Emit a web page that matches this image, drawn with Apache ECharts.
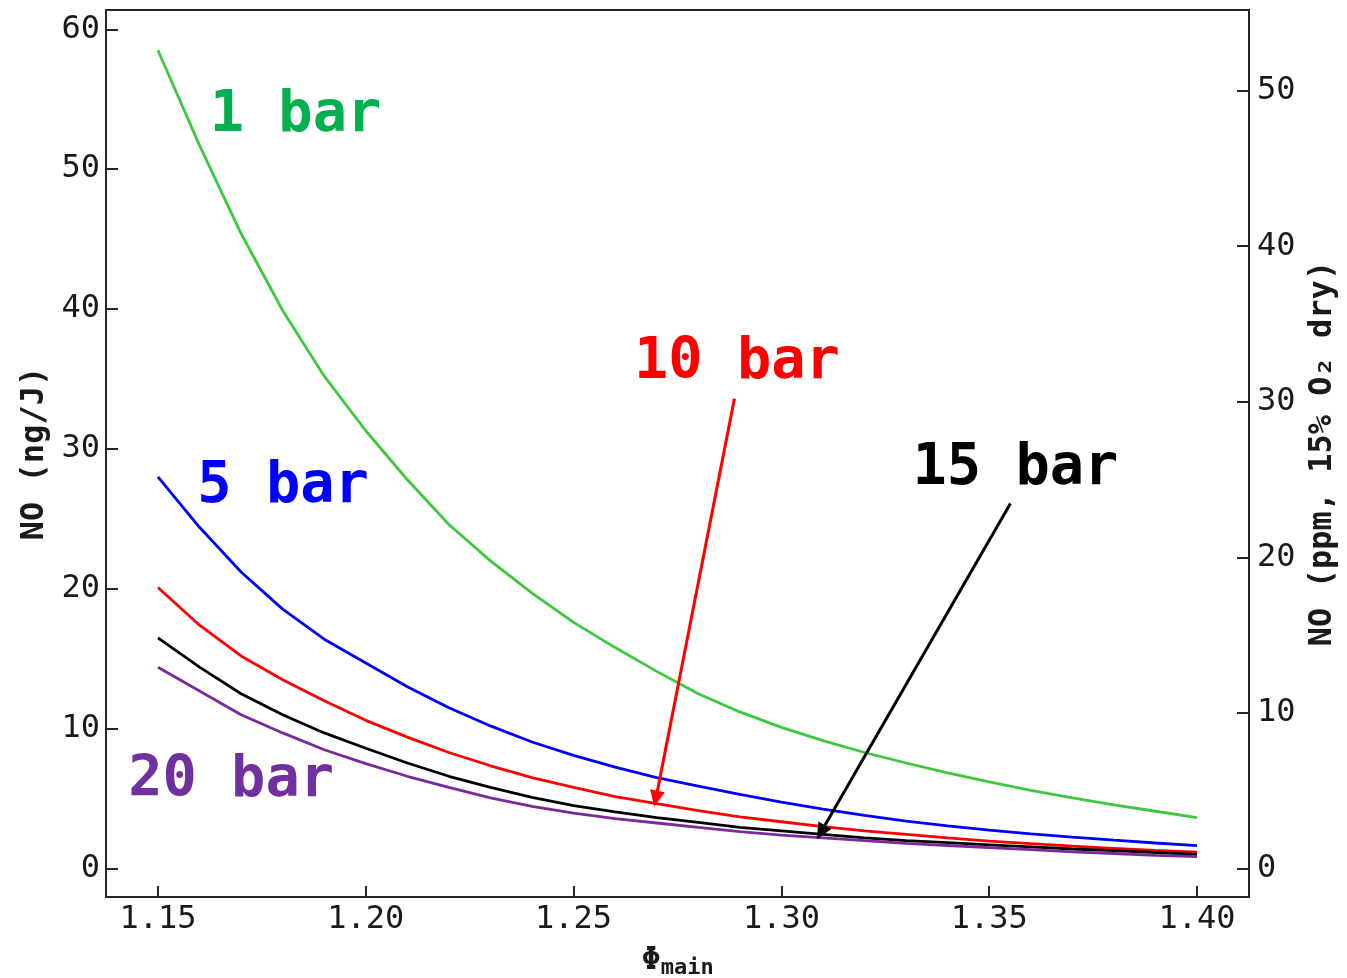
<!DOCTYPE html>
<html>
<head>
<meta charset="utf-8">
<title>NO vs main equivalence ratio</title>
<script src="https://cdn.jsdelivr.net/npm/echarts@6/dist/echarts.min.js"></script>
<style>
  html, body { margin: 0; padding: 0; background: #fff; }
  #chart { width: 1347px; height: 978px; }
</style>
</head>
<body>
<div id="chart"></div>
<script>
// Main-zone equivalence ratio
const phiMain = [1.15, 1.16, 1.17, 1.18, 1.19, 1.20, 1.21, 1.22, 1.23, 1.24, 1.25, 1.26, 1.27,
                 1.28, 1.29, 1.30, 1.31, 1.32, 1.33, 1.34, 1.35, 1.36, 1.37, 1.38, 1.39, 1.40];

// NO emission index (ng/J) at each pressure
const no1bar  = [58.5, 51.7, 45.4, 39.9, 35.2, 31.3, 27.8, 24.6, 22.0, 19.7, 17.6, 15.8, 14.1,
                 12.5, 11.2, 10.1, 9.15, 8.3, 7.55, 6.85, 6.2, 5.6, 5.05, 4.55, 4.1, 3.65];
const no5bar  = [28.0, 24.4, 21.2, 18.55, 16.4, 14.7, 13.0, 11.5, 10.2, 9.05, 8.1, 7.25, 6.5,
                 5.9, 5.3, 4.75, 4.25, 3.8, 3.4, 3.05, 2.75, 2.48, 2.25, 2.03, 1.83, 1.65];
const no10bar = [20.1, 17.4, 15.2, 13.5, 12.0, 10.6, 9.4, 8.3, 7.35, 6.5, 5.8, 5.15, 4.65,
                 4.15, 3.7, 3.35, 3.0, 2.7, 2.45, 2.2, 1.97, 1.78, 1.6, 1.45, 1.3, 1.17];
const no15bar = [16.5, 14.4, 12.5, 11.0, 9.7, 8.6, 7.55, 6.6, 5.8, 5.1, 4.5, 4.05, 3.65,
                 3.3, 2.95, 2.7, 2.45, 2.2, 2.0, 1.85, 1.7, 1.55, 1.4, 1.28, 1.15, 1.02];
const no20bar = [14.4, 12.7, 11.0, 9.7, 8.5, 7.5, 6.6, 5.8, 5.05, 4.45, 3.97, 3.57, 3.26,
                 2.95, 2.65, 2.4, 2.2, 2.0, 1.8, 1.65, 1.5, 1.35, 1.2, 1.08, 0.95, 0.85];

// Tick labels
const xTicks = [1.15, 1.20, 1.25, 1.30, 1.35, 1.40];
const yLeftTicks = [0, 10, 20, 30, 40, 50, 60];
const yRightTicks = [0, 10, 20, 30, 40, 50];

// Conversion ng/J -> ppm @ 15% O2 dry
const NG_TO_PPM = 0.899;

// Series labels and their anchor points (phi, ng/J)
const seriesNames = ['1 bar', '5 bar', '10 bar', '15 bar', '20 bar'];
const labelAnchors = [[1.1831, 53.8], [1.1801, 27.3], [1.2893, 36.1], [1.3563, 28.55], [1.1676, 6.25]];
// Arrows: [tail, tip] in (phi, ng/J)
const arrow10bar = [[1.2887, 33.6], [1.2698, 5.0]];
const arrow15bar = [[1.3551, 26.1], [1.3095, 2.6]];

const lineColors  = ['#3ec83e', '#0000ff', '#ff0000', '#000000', '#7b2a9b'];
const labelColors = ['#00b050', '#0000ff', '#ff0000', '#000000', '#7030a0'];
const allSeries = [no1bar, no5bar, no10bar, no15bar, no20bar];

const yMin = -2.03, yMax = 61.38;
const MONO = '"DejaVu Sans Mono", "Liberation Mono", monospace';
const AXIS_COLOR = '#262626';
const TEXT_COLOR = '#1a1a1a';

function arrowMarkLine(pts, color) {
  return {
    silent: true,
    animation: false,
    symbol: ['none', 'triangle'],
    symbolSize: [15, 16],
    lineStyle: { color: color, width: 3, type: 'solid' },
    label: { show: false },
    data: [[{ coord: pts[0] }, { coord: pts[1] }]]
  };
}

const series = allSeries.map(function (vals, i) {
  const s = {
    name: seriesNames[i],
    type: 'line',
    xAxisIndex: 0,
    yAxisIndex: 0,
    showSymbol: false,
    symbol: 'none',
    data: phiMain.map(function (p, k) { return [p, vals[k]]; }),
    lineStyle: { color: lineColors[i], width: 2.8 },
    itemStyle: { color: lineColors[i] },
    z: 3,
    markPoint: {
      silent: true,
      symbol: 'circle',
      symbolSize: 0,
      itemStyle: { color: 'transparent' },
      label: {
        show: true,
        position: 'inside',
        formatter: seriesNames[i],
        fontFamily: MONO,
        fontWeight: 'bold',
        fontSize: 57,
        color: labelColors[i]
      },
      data: [{ coord: labelAnchors[i] }]
    }
  };
  if (i === 2) s.markLine = arrowMarkLine(arrow10bar, '#ff0000');
  if (i === 3) s.markLine = arrowMarkLine(arrow15bar, '#000000');
  return s;
});

const chart = echarts.init(document.getElementById('chart'), null, { renderer: 'canvas' });
chart.setOption({
  animation: false,
  backgroundColor: '#ffffff',
  grid: {
    left: 106, right: 98, top: 10, bottom: 81,
    outerBoundsMode: 'none',
    containLabel: false,
    show: true, borderColor: AXIS_COLOR, borderWidth: 2, backgroundColor: 'transparent'
  },
  xAxis: {
    type: 'value',
    min: 1.1375, max: 1.4125,
    name: '{phi|Φ}{sub|main}',
    nameLocation: 'middle',
    nameGap: 46,
    nameTextStyle: {
      rich: {
        phi: { fontFamily: MONO, fontWeight: 'bold', fontSize: 32, color: TEXT_COLOR },
        sub: { fontFamily: MONO, fontWeight: 'bold', fontSize: 22, color: TEXT_COLOR, padding: [14, 0, 0, 0] }
      }
    },
    axisLine: { show: true, onZero: false, lineStyle: { color: AXIS_COLOR, width: 2 } },
    axisTick: { show: true, inside: true, length: 11, customValues: xTicks, lineStyle: { color: AXIS_COLOR, width: 2 } },
    axisLabel: {
      customValues: xTicks,
      formatter: function (v) { return v.toFixed(2); },
      fontFamily: MONO, fontSize: 32, color: TEXT_COLOR, margin: 7
    },
    splitLine: { show: false }
  },
  yAxis: [
    {
      type: 'value',
      position: 'left',
      min: yMin, max: yMax,
      name: 'NO (ng/J)',
      nameLocation: 'middle',
      nameGap: 52,
      nameRotate: 90,
      nameTextStyle: { fontFamily: MONO, fontWeight: 'bold', fontSize: 32, color: TEXT_COLOR },
      axisLine: { show: true, onZero: false, lineStyle: { color: AXIS_COLOR, width: 2 } },
      axisTick: { show: true, inside: true, length: 12, customValues: yLeftTicks, lineStyle: { color: AXIS_COLOR, width: 2 } },
      axisLabel: { customValues: yLeftTicks, fontFamily: MONO, fontSize: 32, color: TEXT_COLOR, margin: 6 },
      splitLine: { show: false }
    },
    {
      type: 'value',
      position: 'right',
      min: yMin * NG_TO_PPM, max: yMax * NG_TO_PPM,
      name: 'NO (ppm, 15% O₂ dry)',
      nameLocation: 'middle',
      nameGap: 55,
      nameRotate: 90,
      nameTextStyle: { fontFamily: MONO, fontWeight: 'bold', fontSize: 32, color: TEXT_COLOR },
      axisLine: { show: true, onZero: false, lineStyle: { color: AXIS_COLOR, width: 2 } },
      axisTick: { show: true, inside: true, length: 12, customValues: yRightTicks, lineStyle: { color: AXIS_COLOR, width: 2 } },
      axisLabel: { customValues: yRightTicks, fontFamily: MONO, fontSize: 32, color: TEXT_COLOR, margin: 8 },
      splitLine: { show: false }
    }
  ],
  series: series
});
</script>
</body>
</html>
